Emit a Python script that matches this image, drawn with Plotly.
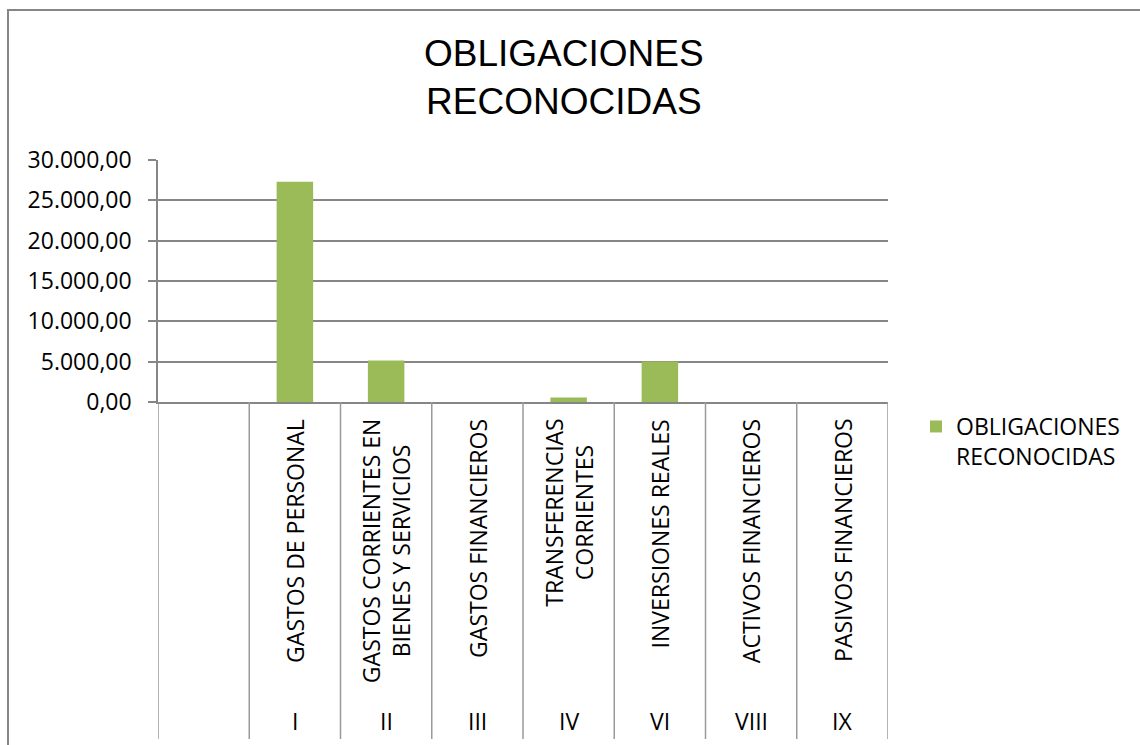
import plotly.graph_objects as go

# Budget chapters (Roman numeral code, description) and recognised obligations
chapters = ["I", "II", "III", "IV", "VI", "VIII", "IX"]
chapter_names = [
    "GASTOS DE PERSONAL",
    "GASTOS CORRIENTES EN<br>BIENES Y SERVICIOS",
    "GASTOS FINANCIEROS",
    "TRANSFERENCIAS<br>CORRIENTES",
    "INVERSIONES REALES",
    "ACTIVOS FINANCIEROS",
    "PASIVOS FINANCIEROS",
]
obligaciones = [27300, 5150, 0, 560, 5020, 0, 0]
series_name = "OBLIGACIONES<br>RECONOCIDAS"
y_ticks = [0, 5000, 10000, 15000, 20000, 25000, 30000]

W, H = 1140, 745
PL, PR, PT, PB = 158, 888, 160, 402  # plot area in pixels


def px_x(px):
    return (px - PL) / (PR - PL)


def px_y(py):
    return (PB - py) / (PB - PT)


GRID = "#868686"
SEP = "#9a9a9a"
GREEN = "#9BBB59"
FONT = "Open Sans"
FS = 23

fig = go.Figure()
fig.add_trace(go.Bar(
    x=chapters,
    y=obligaciones,
    name=series_name,
    marker=dict(color=GREEN, line=dict(width=0)),
    width=0.4,
    showlegend=True,
))

# Category text (rotated descriptions and chapter codes)
annotations = []
for code, name in zip(chapters, chapter_names):
    annotations.append(dict(
        x=code, xref="x", y=px_y(417), yref="paper",
        text=name, textangle=-90, showarrow=False,
        xanchor="center", yanchor="top", align="center",
        font=dict(family=FONT, size=FS, color="#000000"),
    ))
    annotations.append(dict(
        x=code, xref="x", y=px_y(721), yref="paper",
        text=code, showarrow=False,
        xanchor="center", yanchor="middle",
        font=dict(family=FONT, size=FS, color="#000000"),
    ))

# Chart title
annotations.append(dict(
    x=px_x(564), xref="paper", y=px_y(31), yref="paper",
    text="OBLIGACIONES<br>RECONOCIDAS", showarrow=False,
    xanchor="center", yanchor="top", align="center",
    font=dict(family="Liberation Sans", size=37, color="#000000"),
))

# Separators between categories of the multi-level axis
n_slots = len(chapters) + 1
shapes = []
for i in range(n_slots + 1):
    xv = -1.5 + i
    shapes.append(dict(
        type="line", xref="x", yref="paper",
        x0=xv, x1=xv, y0=0, y1=px_y(739),
        line=dict(color=SEP, width=1.5),
    ))

# Outer chart border
shapes.append(dict(
    type="rect", xref="paper", yref="paper",
    x0=px_x(8), x1=px_x(1160), y0=px_y(10), y1=px_y(770),
    line=dict(color="#868686", width=2), fillcolor="rgba(0,0,0,0)", layer="below",
))

fig.update_layout(
    width=W, height=H,
    margin=dict(l=PL, r=W - PR, t=PT, b=H - PB, autoexpand=False),
    paper_bgcolor="white", plot_bgcolor="white",
    separators=",.",
    xaxis=dict(
        type="category", categoryorder="array", categoryarray=chapters,
        range=[-1.5, len(chapters) - 0.5],
        showticklabels=False, ticks="", showgrid=False,
        showline=True, linecolor=GRID, linewidth=1.5,
        zeroline=False, fixedrange=True,
    ),
    yaxis=dict(
        range=[0, 30000], tickvals=y_ticks, tickformat=",.2f",
        ticks="outside", ticklen=8, tickcolor=GRID, tickwidth=1.5,
        showgrid=True, gridcolor=GRID, gridwidth=1.5,
        showline=True, linecolor=GRID, linewidth=1.5,
        zeroline=False, ticklabelstandoff=12,
        tickfont=dict(family=FONT, size=FS, color="#000000"),
    ),
    legend=dict(
        x=px_x(916), y=px_y(405), xanchor="left", yanchor="top",
        valign="top", bgcolor="rgba(0,0,0,0)",
        font=dict(family=FONT, size=FS, color="#000000"),
    ),
    annotations=annotations,
    shapes=shapes,
    bargap=0.6,
)

fig.write_html("out.html")
